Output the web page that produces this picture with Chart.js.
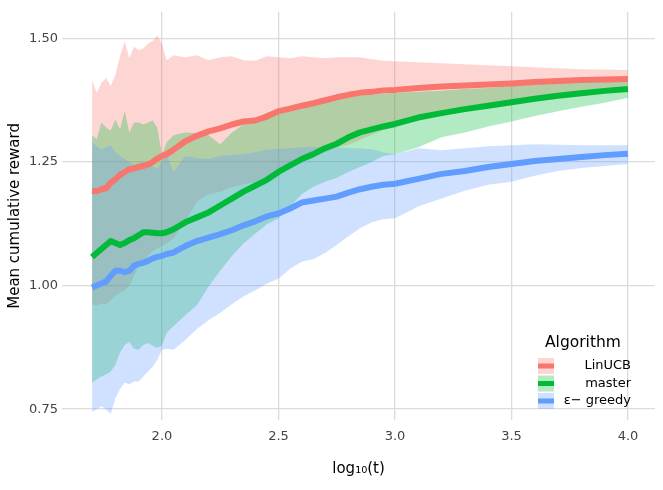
<!DOCTYPE html>
<html>
<head>
<meta charset="utf-8">
<script src="https://cdn.jsdelivr.net/npm/chart.js@4.4.1/dist/chart.umd.min.js"></script>
<style>
  html, body { margin: 0; padding: 0; background: #fff; }
  #wrap { width: 663px; height: 490px; }
</style>
</head>
<body>
<div id="wrap"><canvas id="rewardChart" width="663" height="490"></canvas></div>
<script>
// log10(t) positions shared by all series
const logT = [1.70, 1.72, 1.74, 1.76, 1.78, 1.80, 1.82, 1.84, 1.86, 1.88,
              1.90, 1.92, 1.94, 1.96, 1.98, 2.00, 2.02, 2.05, 2.10, 2.15,
              2.20, 2.25, 2.30, 2.35, 2.40, 2.45, 2.50, 2.55, 2.60, 2.65,
              2.70, 2.75, 2.80, 2.85, 2.90, 2.95, 3.00, 3.10, 3.20, 3.30,
              3.40, 3.50, 3.60, 3.70, 3.80, 3.90, 4.00];

const algorithms = ['LinUCB', 'master', 'ε− greedy'];

const linucbMean = [1.192, 1.191, 1.195, 1.197, 1.208, 1.215, 1.224, 1.230, 1.236, 1.237,
                    1.240, 1.242, 1.245, 1.250, 1.257, 1.262, 1.266, 1.275, 1.292, 1.303,
                    1.312, 1.318, 1.326, 1.332, 1.334, 1.342, 1.353, 1.358, 1.364, 1.369,
                    1.375, 1.381, 1.386, 1.390, 1.392, 1.395, 1.396, 1.400, 1.403, 1.405,
                    1.407, 1.409, 1.412, 1.414, 1.416, 1.417, 1.418];
const linucbLow = [0.962, 0.960, 0.964, 0.962, 0.970, 0.980, 0.986, 0.990, 1.000, 1.020,
                   1.040, 1.050, 1.060, 1.070, 1.075, 1.080, 1.085, 1.096, 1.130, 1.170,
                   1.185, 1.190, 1.200, 1.205, 1.210, 1.220, 1.235, 1.250, 1.260, 1.265,
                   1.270, 1.280, 1.285, 1.295, 1.305, 1.315, 1.320, 1.335, 1.350, 1.358,
                   1.365, 1.372, 1.380, 1.386, 1.392, 1.398, 1.404];
const linucbHigh = [1.416, 1.390, 1.410, 1.420, 1.404, 1.426, 1.464, 1.494, 1.460, 1.484,
                    1.476, 1.480, 1.490, 1.495, 1.506, 1.490, 1.456, 1.466, 1.462, 1.466,
                    1.456, 1.462, 1.464, 1.456, 1.455, 1.464, 1.462, 1.460, 1.464, 1.462,
                    1.460, 1.462, 1.462, 1.462, 1.458, 1.455, 1.454, 1.452, 1.450, 1.448,
                    1.446, 1.444, 1.442, 1.440, 1.438, 1.437, 1.436];

const masterMean = [1.058, 1.066, 1.074, 1.082, 1.090, 1.086, 1.082, 1.086, 1.092, 1.096,
                    1.102, 1.108, 1.108, 1.107, 1.106, 1.106, 1.108, 1.114, 1.128, 1.138,
                    1.148, 1.162, 1.176, 1.190, 1.202, 1.214, 1.230, 1.243, 1.256, 1.266,
                    1.278, 1.287, 1.300, 1.310, 1.316, 1.322, 1.327, 1.340, 1.349, 1.357,
                    1.364, 1.371, 1.378, 1.384, 1.389, 1.394, 1.398];
const masterLow = [0.804, 0.810, 0.816, 0.820, 0.826, 0.840, 0.864, 0.880, 0.886, 0.872,
                   0.870, 0.880, 0.884, 0.878, 0.874, 0.878, 0.904, 0.918, 0.940, 0.960,
                   0.998, 1.030, 1.060, 1.085, 1.105, 1.124, 1.136, 1.160, 1.185, 1.200,
                   1.210, 1.218, 1.230, 1.240, 1.250, 1.262, 1.266, 1.280, 1.300, 1.310,
                   1.322, 1.332, 1.343, 1.353, 1.362, 1.370, 1.380];
const masterHigh = [1.304, 1.296, 1.330, 1.320, 1.314, 1.336, 1.316, 1.354, 1.310, 1.330,
                    1.330, 1.326, 1.330, 1.334, 1.320, 1.264, 1.290, 1.304, 1.310, 1.308,
                    1.304, 1.286, 1.310, 1.326, 1.336, 1.350, 1.355, 1.358, 1.362, 1.366,
                    1.370, 1.375, 1.380, 1.384, 1.386, 1.388, 1.390, 1.392, 1.394, 1.398,
                    1.400, 1.404, 1.407, 1.410, 1.412, 1.414, 1.416];

const greedyMean = [0.996, 1.000, 1.004, 1.008, 1.020, 1.030, 1.030, 1.027, 1.030, 1.040,
                    1.044, 1.046, 1.050, 1.055, 1.058, 1.060, 1.064, 1.067, 1.080, 1.090,
                    1.097, 1.104, 1.112, 1.122, 1.130, 1.140, 1.146, 1.156, 1.168, 1.172,
                    1.176, 1.180, 1.188, 1.195, 1.200, 1.204, 1.206, 1.216, 1.226, 1.232,
                    1.240, 1.246, 1.252, 1.256, 1.260, 1.264, 1.267];
const greedyLow = [0.744, 0.750, 0.756, 0.750, 0.740, 0.772, 0.790, 0.804, 0.800, 0.806,
                   0.806, 0.816, 0.826, 0.836, 0.850, 0.870, 0.872, 0.870, 0.890, 0.912,
                   0.930, 0.945, 0.962, 0.978, 0.990, 1.004, 1.014, 1.034, 1.048, 1.054,
                   1.066, 1.082, 1.100, 1.116, 1.128, 1.134, 1.136, 1.160, 1.176, 1.192,
                   1.204, 1.210, 1.222, 1.232, 1.238, 1.242, 1.246];
const greedyHigh = [1.290, 1.282, 1.276, 1.280, 1.284, 1.270, 1.262, 1.256, 1.250, 1.244,
                    1.248, 1.250, 1.250, 1.242, 1.236, 1.250, 1.264, 1.230, 1.262, 1.258,
                    1.256, 1.262, 1.264, 1.266, 1.270, 1.275, 1.277, 1.278, 1.280, 1.280,
                    1.280, 1.280, 1.278, 1.278, 1.276, 1.270, 1.266, 1.278, 1.274, 1.278,
                    1.282, 1.284, 1.286, 1.285, 1.284, 1.284, 1.284];

const xTicks = [2.0, 2.5, 3.0, 3.5, 4.0];
const yTicks = [0.75, 1.00, 1.25, 1.50];

// ggplot default hues
const lineColors = ['#F8766D', '#00BA38', '#619CFF'];
const bandColors = ['rgba(248,118,109,0.3)', 'rgba(0,186,56,0.3)', 'rgba(97,156,255,0.3)'];

const FONT = "'DejaVu Sans', 'Liberation Sans', sans-serif";

const pts = arr => arr.map((v, i) => ({ x: logT[i], y: v }));

function lineSet(label, values, color) {
    return {
        label: label, data: pts(values), borderColor: color, borderWidth: 6,
        pointRadius: 0, fill: false, tension: 0, borderJoinStyle: 'round'
    };
}

function bandPair(low, high, color) {
    return [
        { data: pts(low), borderWidth: 0, borderColor: 'transparent', pointRadius: 0, fill: false },
        { data: pts(high), borderWidth: 0, borderColor: 'transparent', pointRadius: 0, fill: '-1', backgroundColor: color }
    ];
}

// legend drawn like the ggplot guide (ribbon box + thick line, right aligned labels)
const ggLegend = {
    id: 'ggLegend',
    afterDraw(chart) {
        const ctx = chart.ctx;
        ctx.save();
        ctx.fillStyle = '#000';
        ctx.font = '15.5px ' + FONT;
        ctx.textBaseline = 'middle';
        ctx.textAlign = 'left';
        ctx.fillText('Algorithm', 545, 343);
        const rows = [366, 383.5, 401];
        algorithms.forEach((name, i) => {
            const cy = rows[i];
            ctx.fillStyle = bandColors[i];
            ctx.fillRect(538, cy - 8, 16, 16);
            ctx.fillStyle = lineColors[i];
            ctx.fillRect(538, cy - 2.5, 16, 5);
            ctx.fillStyle = '#000';
            ctx.font = '13px ' + FONT;
            ctx.textAlign = 'right';
            ctx.fillText(name, 631, cy);
        });
        ctx.restore();
    }
};

const canvas = document.getElementById('rewardChart');
new Chart(canvas.getContext('2d'), {
    type: 'line',
    data: {
        datasets: [
            lineSet(algorithms[0], linucbMean, lineColors[0]),
            lineSet(algorithms[1], masterMean, lineColors[1]),
            lineSet(algorithms[2], greedyMean, lineColors[2]),
            ...bandPair(greedyLow, greedyHigh, bandColors[2]),
            ...bandPair(masterLow, masterHigh, bandColors[1]),
            ...bandPair(linucbLow, linucbHigh, bandColors[0])
        ]
    },
    options: {
        responsive: false,
        animation: false,
        devicePixelRatio: 1,
        layout: { padding: { top: 8, right: 8, left: 0, bottom: 0 } },
        plugins: {
            legend: { display: false },
            tooltip: { enabled: false },
            filler: { drawTime: 'beforeDatasetsDraw' }
        },
        scales: {
            x: {
                type: 'linear', min: 1.571, max: 4.116,
                afterBuildTicks: s => { s.ticks = xTicks.map(v => ({ value: v })); },
                afterFit: s => { s.height = 70; },
                grid: { color: '#DCDCDC', lineWidth: 1.3, drawTicks: false },
                border: { display: false },
                ticks: { padding: 9, color: '#444', font: { family: FONT, size: 13 },
                         callback: v => v.toFixed(1), maxRotation: 0 },
                title: { display: true, text: 'log₁₀(t)', color: '#000',
                         font: { family: FONT, size: 15 }, padding: { top: 0, bottom: 12 } }
            },
            y: {
                min: 0.728, max: 1.554,
                afterBuildTicks: s => { s.ticks = yTicks.map(v => ({ value: v })); },
                afterFit: s => { s.width = 62; },
                grid: { color: '#DCDCDC', lineWidth: 1.3, drawTicks: false },
                border: { display: false },
                ticks: { padding: 4, color: '#444', font: { family: FONT, size: 13 },
                         callback: v => v.toFixed(2) },
                title: { display: true, text: 'Mean cumulative reward', color: '#000',
                         font: { family: FONT, size: 15 }, padding: { top: 6, bottom: 0 } }
            }
        }
    },
    plugins: [ggLegend]
});
</script>
</body>
</html>
